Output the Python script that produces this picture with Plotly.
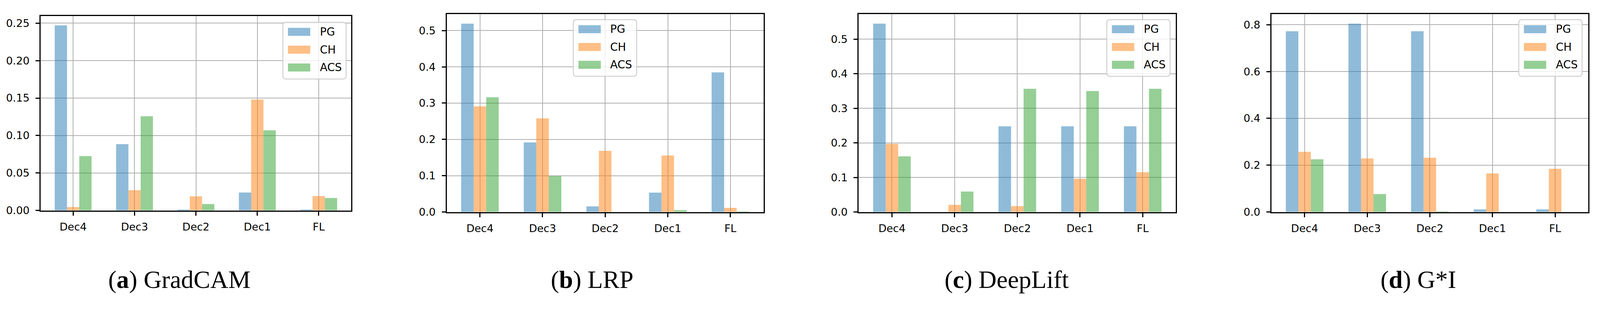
import plotly.graph_objects as go

# ---------------- data ----------------
categories = ["Dec4", "Dec3", "Dec2", "Dec1", "FL"]
series_names = ["PG", "CH", "ACS"]

gradcam_pg = [0.247, 0.0885, 0.0012, 0.0239, 0.0012]
gradcam_ch = [0.0045, 0.027, 0.0188, 0.148, 0.0192]
gradcam_acs = [0.0725, 0.1257, 0.0085, 0.107, 0.0166]

lrp_pg = [0.519, 0.1916, 0.0154, 0.0534, 0.3848]
lrp_ch = [0.291, 0.258, 0.1686, 0.1557, 0.0113]
lrp_acs = [0.316, 0.099, 0.0, 0.005, 0.0017]

deeplift_pg = [0.545, 0.0, 0.2478, 0.2478, 0.2478]
deeplift_ch = [0.197, 0.0206, 0.0171, 0.096, 0.115]
deeplift_acs = [0.161, 0.0592, 0.3566, 0.35, 0.3566]

gxi_pg = [0.772, 0.8045, 0.772, 0.011, 0.011]
gxi_ch = [0.257, 0.2285, 0.2317, 0.1644, 0.1845]
gxi_acs = [0.225, 0.0764, 0.0026, 0.0, 0.0]

captions = ["(<b>a</b>) GradCAM", "(<b>b</b>) LRP", "(<b>c</b>) DeepLift", "(<b>d</b>) G*I"]
ytick_formats = [".2f", ".1f", ".1f", ".1f"]
ytick_steps = [0.05, 0.1, 0.1, 0.2]

panels = [
    [gradcam_pg, gradcam_ch, gradcam_acs],
    [lrp_pg, lrp_ch, lrp_acs],
    [deeplift_pg, deeplift_ch, deeplift_acs],
    [gxi_pg, gxi_ch, gxi_acs],
]

# ---------------- style / layout ----------------
# The visible page is about 4096 px wide with an 8 px body margin,
# so the figure is sized to fit it and reference-pixel positions are mapped onto it.
REF_W, REF_H = 4373, 796
VIEW_W = 4096
MARGIN = 8
W, H = 4080, 780
SX = VIEW_W / REF_W

colors = ["rgba(31,119,180,0.5)", "rgba(255,127,14,0.5)", "rgba(44,160,44,0.5)"]

# axes boxes in reference pixels: (left, top, right, bottom)
axes_px = [
    (111, 42, 960, 549),
    (1221, 37, 2087, 553),
    (2347, 37, 3214, 553),
    (3475, 37, 4341, 553),
]
legend_px = [(773, 58), (1567, 51), (3025, 51), (4151, 51)]
caption_px = [490, 1618, 2751, 3877]
caption_y = 729


def px(x):
    return (x * SX - MARGIN) / W


def py(y):
    return 1 - (y - MARGIN) / H


fig = go.Figure()
shapes = []
annotations = []

for i, vals in enumerate(panels):
    suffix = "" if i == 0 else str(i + 1)
    for s, name in enumerate(series_names):
        fig.add_trace(go.Bar(
            x=categories, y=vals[s], name=name,
            xaxis="x" + suffix, yaxis="y" + suffix,
            marker=dict(color=colors[s], line=dict(width=0)),
            showlegend=False, offsetgroup=str(s),
        ))
    ymax = max(max(v) for v in vals) * 1.05
    nt = int(ymax / ytick_steps[i] + 1e-9)
    tickvals = [round(k * ytick_steps[i], 4) for k in range(nt + 1)]
    l, t, r, b = axes_px[i]
    axis_common = dict(
        showline=True, linecolor="black", linewidth=3, mirror=True,
        ticks="outside", ticklen=10, tickwidth=3, tickcolor="black",
        showgrid=True, gridcolor="#b0b0b0", gridwidth=2,
        zeroline=False,
        tickfont=dict(family="DejaVu Sans", size=27, color="black"),
    )
    fig.update_layout(**{
        "xaxis" + suffix: dict(
            domain=[px(l), px(r)], anchor="y" + suffix,
            type="category", range=[-0.53, 4.53],
            ticklabelstandoff=6,
            **axis_common,
        ),
        "yaxis" + suffix: dict(
            domain=[py(b), py(t)], anchor="x" + suffix,
            range=[0, ymax], tickvals=tickvals, tickformat=ytick_formats[i],
            ticklabelstandoff=10,
            **axis_common,
        ),
    })

    # legend (drawn manually, matplotlib style)
    lx, ly = legend_px[i]
    bw, bh = 173, 148
    x0, x1 = px(lx), px(lx + bw)
    yt, yb = py(ly), py(ly + bh)
    rx, ry = 8 / W, 8 / H
    path = (f"M {x0+rx},{yt} L {x1-rx},{yt} Q {x1},{yt} {x1},{yt-ry} "
            f"L {x1},{yb+ry} Q {x1},{yb} {x1-rx},{yb} L {x0+rx},{yb} "
            f"Q {x0},{yb} {x0},{yb+ry} L {x0},{yt-ry} Q {x0},{yt} {x0+rx},{yt} Z")
    shapes.append(dict(type="path", path=path, xref="paper", yref="paper",
                       fillcolor="rgba(255,255,255,0.8)",
                       line=dict(color="rgba(204,204,204,0.9)", width=2.5),
                       layer="above"))
    for s, name in enumerate(series_names):
        cy = ly + 25 + s * 46.5
        shapes.append(dict(type="rect", xref="paper", yref="paper",
                           x0=px(lx + 14), x1=px(lx + 75),
                           y0=py(cy - 10.5), y1=py(cy + 10.5),
                           fillcolor=colors[s], line=dict(width=0), layer="above"))
        annotations.append(dict(text=name, xref="paper", yref="paper",
                                x=px(lx + 99), y=py(cy), xanchor="left", yanchor="middle",
                                showarrow=False,
                                font=dict(family="DejaVu Sans", size=28, color="black")))

    annotations.append(dict(text=captions[i], xref="paper", yref="paper",
                            x=px(caption_px[i]), y=py(caption_y),
                            xanchor="center", yanchor="middle", showarrow=False,
                            font=dict(family="Liberation Serif", size=64, color="black")))

fig.update_layout(
    width=W, height=H,
    margin=dict(l=0, r=0, t=0, b=0),
    paper_bgcolor="white", plot_bgcolor="white",
    barmode="group", bargap=0.4, bargroupgap=0,
    shapes=shapes, annotations=annotations,
    showlegend=False,
)

fig.write_html("out.html")
